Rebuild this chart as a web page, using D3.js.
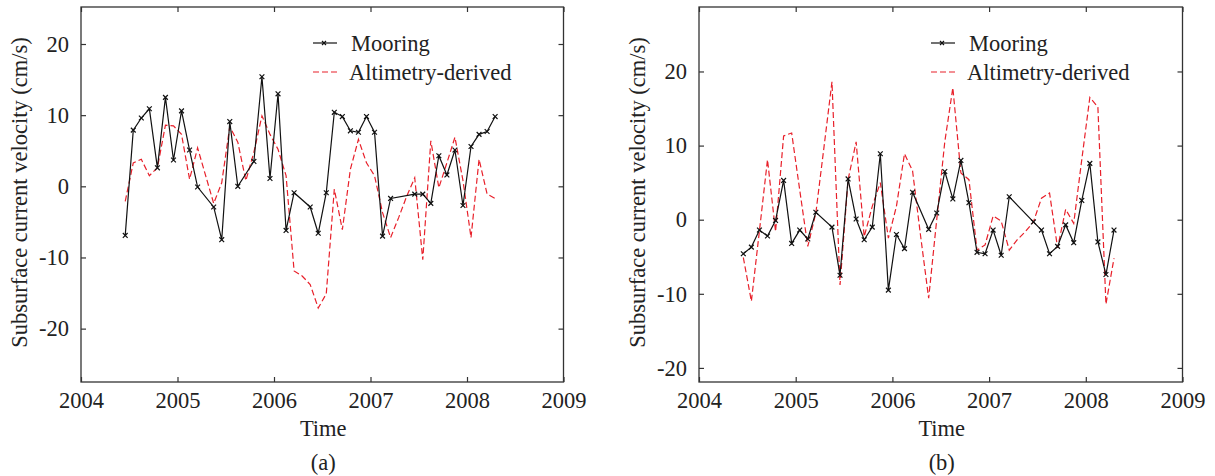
<!DOCTYPE html>
<html><head><meta charset="utf-8">
<script src="https://cdn.jsdelivr.net/npm/d3@7"></script>
<style>
body{margin:0;background:#fff;}
svg text{font-family:"Liberation Serif","Times New Roman",serif;fill:#222;}
</style></head>
<body><svg id="c" width="1215" height="476"></svg>
<script>
// month index: 0 = Jan 2004
const yearTicks = [2004, 2005, 2006, 2007, 2008, 2009];
const valueTicks = [-20, -10, 0, 10, 20];
const seriesNames = ["Mooring", "Altimetry-derived"];
const panelLabels = ["(a)", "(b)"];

const mooringA_months = [5,6,7,8,9,10,11,12,13,14,16,17,18,19,21,22,23,24,25,26,28,29,30,31,32,33,34,35,36,37,38,41,42,43,44,45,46,47,48,49,50,51];
const mooringA_vals = [-6.9,7.9,9.6,10.9,2.6,12.5,3.7,10.6,5.1,-0.1,-2.9,-7.5,9.1,0,3.5,15.4,1.1,13.0,-6.2,-0.9,-2.9,-6.6,-0.9,10.4,9.8,7.8,7.6,9.8,7.6,-7.0,-1.7,-1.1,-1.1,-2.4,4.3,1.6,5.1,-2.7,5.6,7.3,7.7,9.8];

const altA_months = [5,6,7,8,9,10,11,12,13,14,15,16,17,18,19,20,21,22,23,24,25,26,27,28,29,30,31,32,33,34,35,36,37,38,39,40,41,42,43,44,45,46,47,48,49,50,51];
const altA_vals = [-2.1,3.3,3.8,1.5,2.6,8.6,8.5,7.3,1.0,5.4,1.5,-2.4,0.5,8.4,6.2,0.8,4.8,9.9,7.3,5.2,1.5,-11.9,-12.6,-13.8,-17.1,-15.1,-0.4,-6.1,2.4,6.6,3.3,1.5,-3.7,-7.2,-4.4,-1.4,1.2,-10.3,6.4,-0.2,3.3,6.9,0.8,-7.2,3.8,-1.1,-1.7];

const mooringB_months = [5,6,7,8,9,10,11,12,13,14,16,17,18,19,20,21,22,23,24,25,26,28,29,30,31,32,33,34,35,36,37,38,41,42,43,44,45,46,47,48,49,50,51];
const mooringB_vals = [-4.6,-3.7,-1.4,-2.2,-0.1,5.3,-3.2,-1.4,-2.6,1.0,-1.0,-7.5,5.5,0.1,-2.7,-1.0,8.9,-9.5,-2.0,-3.9,3.7,-1.3,0.9,6.5,2.8,8.0,2.3,-4.4,-4.6,-1.4,-4.8,3.1,-0.3,-1.4,-4.6,-3.6,-0.7,-3.1,2.6,7.6,-3.0,-7.4,-1.4];

const altB_months = [5,6,7,8,9,10,11,12,13,14,15,16,17,18,19,20,21,22,23,24,25,26,27,28,29,30,31,32,33,34,35,36,37,38,39,40,41,42,43,44,45,46,47,48,49,50,51];
const altB_vals = [-5.1,-11.0,-1.5,8.1,-1.6,11.3,11.7,4.0,-3.6,0.9,9.7,18.6,-8.8,5.4,10.5,-2.3,1.8,5.0,-2.5,1.8,8.9,6.6,-2.2,-10.6,0.0,10.5,17.8,6.3,5.4,-4.1,-3.4,0.5,-0.2,-4.1,-2.7,-1.6,-0.3,2.9,3.6,-3.8,1.4,-0.5,8.1,16.5,15.2,-11.4,-5.2];

const svg = d3.select("#c");
const FS = 22.5;
const toYear = m => 2004 + (m + 0.5) / 12;
const zip = (ms, vs) => ms.map((m, i) => [toYear(m), vs[i]]);

function panel(cfg) {
  const {x0, x1, y0, y1, ydom, moor, alt, label, legX} = cfg;
  const x = d3.scaleLinear().domain([2004, 2009]).range([x0, x1]);
  const y = d3.scaleLinear().domain(ydom).range([y1, y0]);
  const g = svg.append("g");
  const axisCol = "#333";
  const axB = d3.axisBottom(x).tickValues(yearTicks).tickSize(-5).tickFormat(d3.format("d")).tickPadding(10);
  const gb = g.append("g").attr("transform", `translate(0,${y1})`).call(axB);
  const axT = d3.axisTop(x).tickValues(yearTicks).tickSize(-5).tickFormat("");
  const gt = g.append("g").attr("transform", `translate(0,${y0})`).call(axT);
  const axL = d3.axisLeft(y).tickValues(valueTicks).tickSize(-5).tickPadding(12);
  const gl = g.append("g").attr("transform", `translate(${x0},0)`).call(axL);
  const axR = d3.axisRight(y).tickValues(valueTicks).tickSize(-5).tickFormat("");
  const gr = g.append("g").attr("transform", `translate(${x1},0)`).call(axR);
  [gb, gt, gl, gr].forEach(a => {
    a.select(".domain").remove();
    a.selectAll(".tick line").attr("stroke", axisCol).attr("stroke-width", 1.2);
    a.selectAll("text").attr("font-size", FS).attr("font-family", "Liberation Serif").attr("fill", "#222");
  });
  gl.selectAll("text").text(d => d < 0 ? "-" + Math.abs(d) : d);
  g.append("rect").attr("x", x0).attr("y", y0).attr("width", x1 - x0).attr("height", y1 - y0)
    .attr("fill", "none").attr("stroke", axisCol).attr("stroke-width", 1.3);

  const line = d3.line().x(d => x(d[0])).y(d => y(d[1]));
  g.append("path").datum(alt).attr("d", line).attr("fill", "none")
    .attr("stroke", "#e8202a").attr("stroke-width", 1.2).attr("stroke-dasharray", "6,3");
  g.append("path").datum(moor).attr("d", line).attr("fill", "none")
    .attr("stroke", "#111").attr("stroke-width", 1.2);
  const s = 2.4;
  g.selectAll(".mk").data(moor).enter().append("path")
    .attr("d", d => { const px = x(d[0]), py = y(d[1]);
      return `M${px-s},${py-s}L${px+s},${py+s}M${px-s},${py+s}L${px+s},${py-s}`; })
    .attr("stroke", "#111").attr("stroke-width", 1.2);

  const cx = (x0 + x1) / 2;
  g.append("text").attr("x", cx + 1).attr("y", 436).attr("text-anchor", "middle").attr("font-size", FS).text("Time");
  g.append("text").attr("x", cx + 1).attr("y", 470).attr("text-anchor", "middle").attr("font-size", FS).text(label);
  g.append("text").attr("transform", `translate(${x0 - 54},${(y0 + y1) / 2 - 2}) rotate(-90)`)
    .attr("text-anchor", "middle").attr("font-size", FS).text("Subsurface current velocity (cm/s)");

  const ly1 = 43, ly2 = 72;
  g.append("line").attr("x1", legX).attr("x2", legX + 24).attr("y1", ly1).attr("y2", ly1).attr("stroke", "#111").attr("stroke-width", 1.2);
  const mx = legX + 11;
  g.append("path").attr("d", `M${mx-2},${ly1-2}L${mx+2},${ly1+2}M${mx-2},${ly1+2}L${mx+2},${ly1-2}`).attr("stroke", "#111").attr("stroke-width", 1.2);
  g.append("line").attr("x1", legX).attr("x2", legX + 24).attr("y1", ly2).attr("y2", ly2).attr("stroke", "#e8202a").attr("stroke-width", 1.2).attr("stroke-dasharray", "6,3");
  g.append("text").attr("x", legX + 38).attr("y", ly1).attr("dy", "0.35em").attr("font-size", FS).text(seriesNames[0]);
  g.append("text").attr("x", legX + 36).attr("y", ly2).attr("dy", "0.35em").attr("font-size", FS).text(seriesNames[1]);
}

panel({x0: 81, x1: 563.5, y0: 7, y1: 382, ydom: [-27.5, 25.2],
  moor: zip(mooringA_months, mooringA_vals), alt: zip(altA_months, altA_vals), label: panelLabels[0], legX: 313});
panel({x0: 699, x1: 1182.5, y0: 7, y1: 382, ydom: [-21.9, 28.7],
  moor: zip(mooringB_months, mooringB_vals), alt: zip(altB_months, altB_vals), label: panelLabels[1], legX: 931});
</script></body></html>
